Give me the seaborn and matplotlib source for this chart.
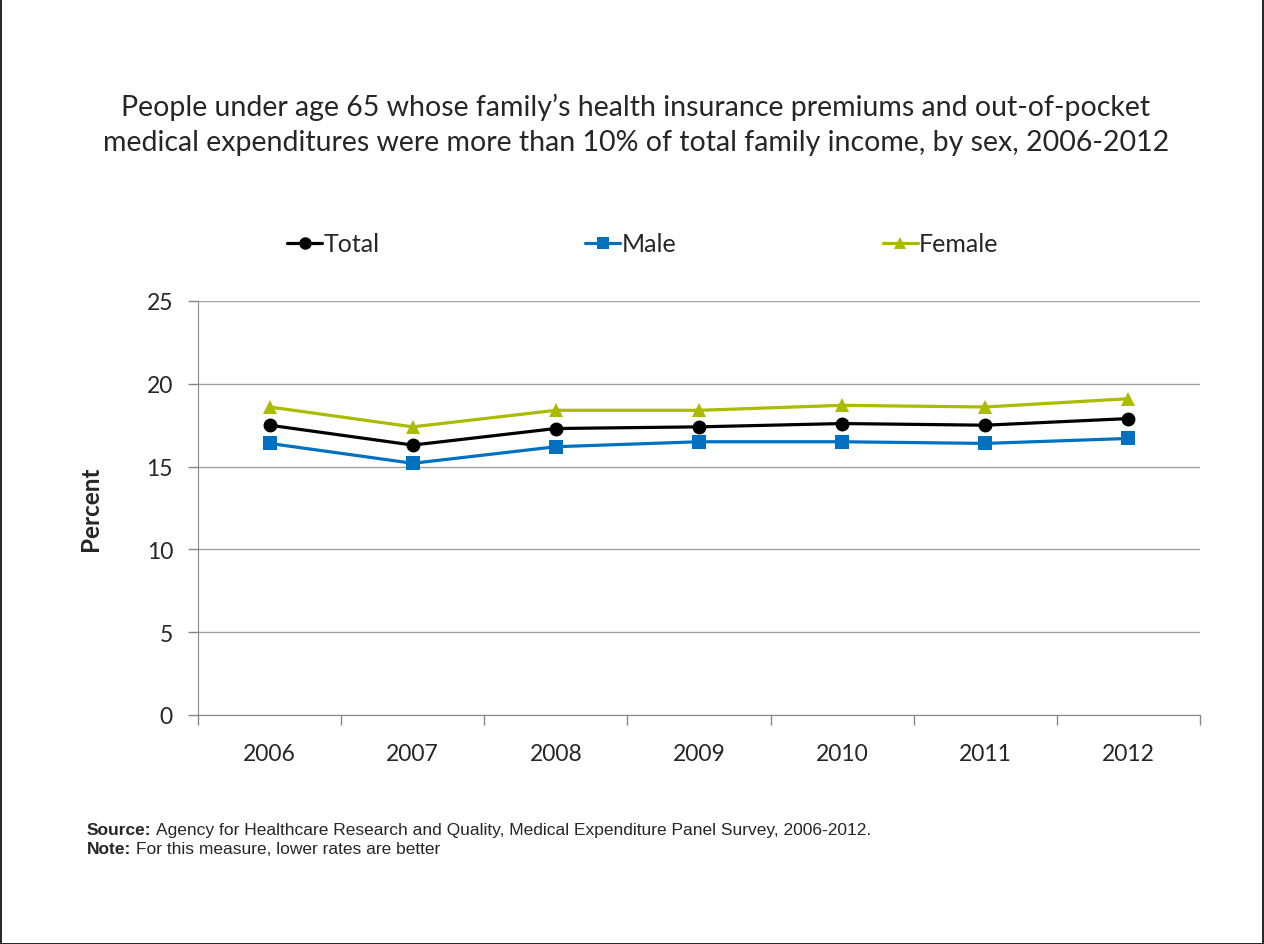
import pandas as pd
import matplotlib.pyplot as plt
import seaborn as sns
from matplotlib.patches import Rectangle
from matplotlib.lines import Line2D

years = [2006, 2007, 2008, 2009, 2010, 2011, 2012]
total = [17.5, 16.3, 17.3, 17.4, 17.6, 17.5, 17.9]
male = [16.4, 15.2, 16.2, 16.5, 16.5, 16.4, 16.7]
female = [18.6, 17.4, 18.4, 18.4, 18.7, 18.6, 19.1]

series = ['Total', 'Male', 'Female']
colors = {'Total': '#000000', 'Male': '#0070C0', 'Female': '#AABB00'}
markers = {'Total': 'o', 'Male': 's', 'Female': '^'}

df = pd.DataFrame({
    'year': years * 3,
    'value': total + male + female,
    'group': ['Total'] * 7 + ['Male'] * 7 + ['Female'] * 7,
})

sns.set_style('white')
plt.rcParams['font.family'] = ['Lato', 'DejaVu Sans']

W, H = 1264, 945
fig = plt.figure(figsize=(W / 100, H / 100), dpi=100)
ax = fig.add_axes([198 / W, 1 - 716 / H, 1002 / W, 414 / H])

sns.lineplot(data=df, x='year', y='value', hue='group', style='group',
             hue_order=series, style_order=series, palette=colors,
             markers=markers, dashes=False, linewidth=2.3, markersize=10,
             markeredgewidth=0, ax=ax, legend=False)

ax.set_xlim(2005.5, 2012.5)
ax.set_ylim(0, 25)
ax.set_yticks([0, 5, 10, 15, 20, 25])
ax.set_xticks(years)
ax.set_xticks([y + 0.5 for y in range(2005, 2013)], minor=True)
ax.tick_params(axis='x', which='major', bottom=True, length=0, pad=20, labelsize=16.5)
ax.tick_params(axis='x', which='minor', bottom=True, length=7, direction='out',
               color='#888888', width=1)
ax.tick_params(axis='y', left=True, length=7, direction='out', color='#888888',
               width=1, pad=11, labelsize=16.5)
ax.grid(axis='y', color='#A0A0A0', linewidth=1)
ax.set_axisbelow(True)
for side in ['top', 'right']:
    ax.spines[side].set_visible(False)
for side in ['left', 'bottom']:
    ax.spines[side].set_color('#888888')
ax.set_xlabel('')
ax.set_ylabel('Percent', fontsize=17.5, fontweight='bold', labelpad=32)

# legend entries spread across the top, one box per series
for s, x0 in zip(series, [287, 585, 883]):
    h = Line2D([0], [0], color=colors[s], marker=markers[s], linewidth=2.3,
               markersize=9, markeredgewidth=0)
    leg = fig.legend([h], [s], loc='center left', bbox_to_anchor=(x0 / W, 1 - 245 / H),
                     frameon=False, fontsize=18, handlelength=1.4, handletextpad=0.05,
                     borderpad=0, borderaxespad=0)

fig.text(636 / W, 1 - 125 / H,
         "People under age 65 whose family\u2019s health insurance premiums and out-of-pocket\n"
         "medical expenditures were more than 10% of total family income, by sex, 2006-2012",
         ha='center', va='center', fontsize=20.5, linespacing=1.4)

renderer = fig.canvas.get_renderer()
for label, rest, y in [('Source:', 'Agency for Healthcare Research and Quality, Medical Expenditure Panel Survey, 2006-2012.', 831),
                       ('Note:', 'For this measure, lower rates are better', 850)]:
    t = fig.text(87 / W, 1 - y / H, label, fontsize=12.5, fontweight='bold',
                 family='Liberation Sans', va='center')
    bb = t.get_window_extent(renderer)
    fig.text((bb.x1 + 5) / W, 1 - y / H, rest, fontsize=12.5,
             family='Liberation Sans', va='center')

fig.patches.append(Rectangle((0.0005, 0.0005), 0.999, 0.999, transform=fig.transFigure,
                             fill=False, edgecolor='black', linewidth=1.2))

fig.savefig('out.png', dpi=100)
